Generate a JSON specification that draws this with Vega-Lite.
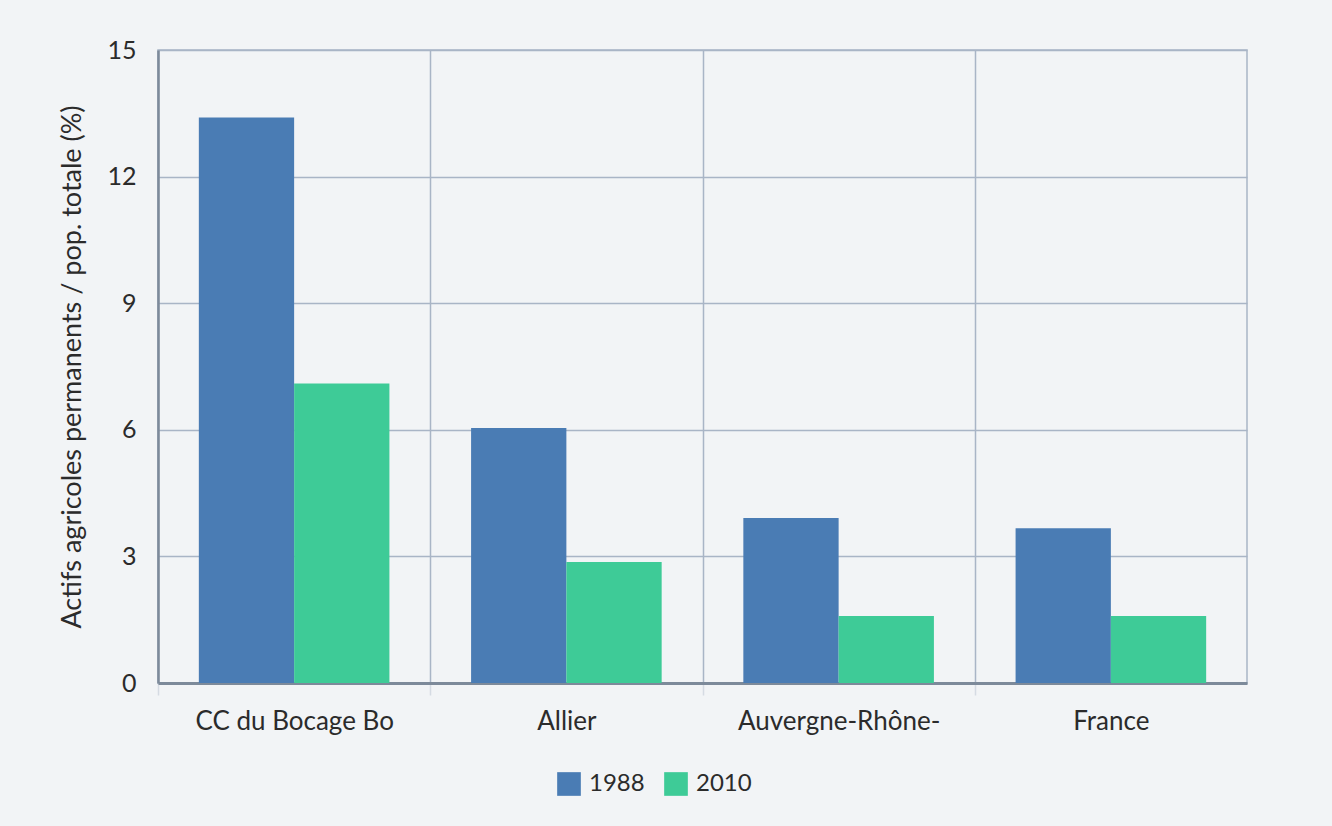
{
  "$schema": "https://vega.github.io/schema/vega-lite/v6.json",
  "autosize": {"type": "none"},
  "width": 1089,
  "height": 633,
  "padding": {"left": 158, "top": 50, "right": 85, "bottom": 143},
  "background": "#f2f4f6",
  "config": {
    "font": "Lato",
    "view": {"stroke": "#a9b5c6", "strokeWidth": 1.5},
    "axis": {"labelFont": "Lato", "titleFont": "Lato", "labelColor": "#2b2b2b", "titleColor": "#2b2b2b"}
  },
  "data": {
    "values": [
      {"territoire": "CC du Bocage Bo", "annee": "1988", "valeur": 13.4},
      {"territoire": "CC du Bocage Bo", "annee": "2010", "valeur": 7.1},
      {"territoire": "Allier", "annee": "1988", "valeur": 6.04},
      {"territoire": "Allier", "annee": "2010", "valeur": 2.87},
      {"territoire": "Auvergne-Rhône-", "annee": "1988", "valeur": 3.91},
      {"territoire": "Auvergne-Rhône-", "annee": "2010", "valeur": 1.59},
      {"territoire": "France", "annee": "1988", "valeur": 3.67},
      {"territoire": "France", "annee": "2010", "valeur": 1.59}
    ]
  },
  "mark": {"type": "bar"},
  "encoding": {
    "x": {
      "field": "territoire",
      "type": "nominal",
      "sort": null,
      "scale": {"paddingInner": 0.3, "paddingOuter": 0.15},
      "axis": {
        "title": null,
        "labelAngle": 0,
        "labelFontSize": 26,
        "labelLimit": 0,
        "labelPadding": 13,
        "tickSize": 12,
        "tickColor": "#d5dbe3",
        "tickWidth": 1.5,
        "tickOffset": -136,
        "labelOffset": 136,
        "grid": true,
        "gridColor": "#a9b5c6",
        "gridWidth": 1.5,
        "domainColor": "#7d8a9a",
        "domainWidth": 3
      }
    },
    "xOffset": {"field": "annee", "type": "nominal"},
    "y": {
      "field": "valeur",
      "type": "quantitative",
      "scale": {"domain": [0, 15], "nice": false},
      "axis": {
        "title": "Actifs agricoles permanents / pop. totale (%)",
        "titleFontSize": 27,
        "titleFontWeight": "normal",
        "titlePadding": 20,
        "values": [0, 3, 6, 9, 12, 15],
        "labelFontSize": 25,
        "labelPadding": 22,
        "ticks": false,
        "gridColor": "#a9b5c6",
        "gridWidth": 1.5,
        "domainColor": "#7d8a9a",
        "domainWidth": 2.5
      }
    },
    "color": {
      "field": "annee",
      "type": "nominal",
      "scale": {"domain": ["1988", "2010"], "range": ["#4a7cb4", "#3ecb97"]},
      "legend": {
        "title": null,
        "orient": "none",
        "direction": "horizontal",
        "legendX": 399,
        "legendY": 722,
        "symbolType": "square",
        "symbolSize": 560,
        "symbolStrokeWidth": 0,
        "labelFontSize": 24,
        "labelColor": "#2b2b2b",
        "labelOffset": 8,
        "columnPadding": 19
      }
    }
  }
}
